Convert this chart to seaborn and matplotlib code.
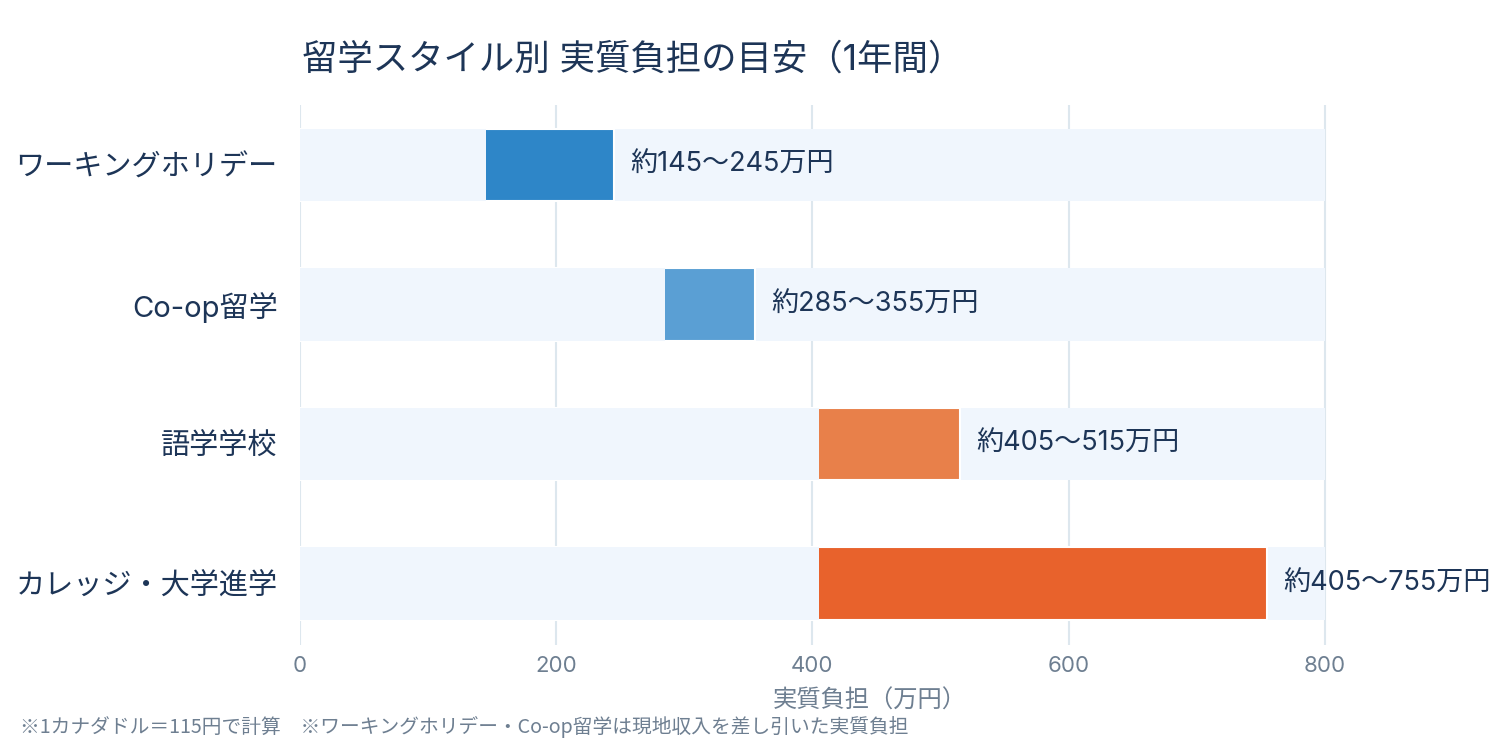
import matplotlib
matplotlib.use("Agg")
import matplotlib.pyplot as plt
import seaborn as sns
import pandas as pd

categories = ["ワーキングホリデー", "Co-op留学", "語学学校", "カレッジ・大学進学"]
low_values = [145, 285, 405, 405]
high_values = [245, 355, 515, 755]
value_labels = ["約145〜245万円", "約285〜355万円", "約405〜515万円", "約405〜755万円"]
bar_colors = ["#2e86c8", "#5a9fd4", "#e8804a", "#e8622c"]
scale_max = [800, 800, 800, 800]
x_ticks = [0, 200, 400, 600, 800]

sns.set_theme(style="white")
plt.rcParams["font.family"] = ["Inter", "Noto Sans CJK JP", "DejaVu Sans"]

TEXT = "#1d3557"
GRAY = "#6e7f91"
BG = "#f0f6fd"

df = pd.DataFrame({"cat": categories, "low": low_values, "high": high_values, "max": scale_max})

fig = plt.figure(figsize=(15, 7.5), dpi=100)
ax = fig.add_axes([0.2, 0.14, 0.76, 0.72])

ax.set_axisbelow(True)
ax.grid(axis="x", color="#dde7ee", linewidth=1.5)
ax.grid(axis="y", visible=False)

sns.barplot(data=df, y="cat", x="max", orient="h", color=BG, width=0.52,
            edgecolor=BG, linewidth=0, saturation=1, ax=ax, zorder=2)
sns.barplot(data=df, y="cat", x="high", orient="h", hue="cat", palette=bar_colors,
            width=0.52, edgecolor="white", linewidth=1.5, saturation=1, legend=False,
            ax=ax, zorder=3)
sns.barplot(data=df, y="cat", x="low", orient="h", color=BG, width=0.52,
            edgecolor=BG, linewidth=0, saturation=1, ax=ax, zorder=4)

for i, (h, lab) in enumerate(zip(high_values, value_labels)):
    ax.annotate(lab, xy=(h, i), xytext=(12, 0), textcoords="offset points",
                va="center", ha="left", fontsize=19.5, color=TEXT, zorder=5,
                annotation_clip=False)

ax.set_xlim(0, 890)
ax.set_ylim(3.44, -0.43)
ax.set_xticks(x_ticks)
ax.set_xticklabels([str(t) for t in x_ticks], fontsize=16, color=GRAY)
ax.tick_params(axis="x", length=0, pad=8)
ax.tick_params(axis="y", length=0, pad=16, labelsize=21, labelcolor=TEXT)
ax.set_ylabel("")
ax.set_xlabel("実質負担（万円）", fontsize=17.5, color=GRAY, labelpad=10)
for s in ax.spines.values():
    s.set_visible(False)

fig.text(0.201, 0.92, "留学スタイル別 実質負担の目安（1年間）", fontsize=25.5,
         color=TEXT, ha="left", va="center")
fig.text(0.013, 0.031, "※1カナダドル＝115円で計算　※ワーキングホリデー・Co-op留学は現地収入を差し引いた実質負担",
         fontsize=14.2, color=GRAY, ha="left", va="center",
         family=["Noto Sans CJK JP", "DejaVu Sans"])

fig.savefig("out.png", dpi=100, facecolor="white")
